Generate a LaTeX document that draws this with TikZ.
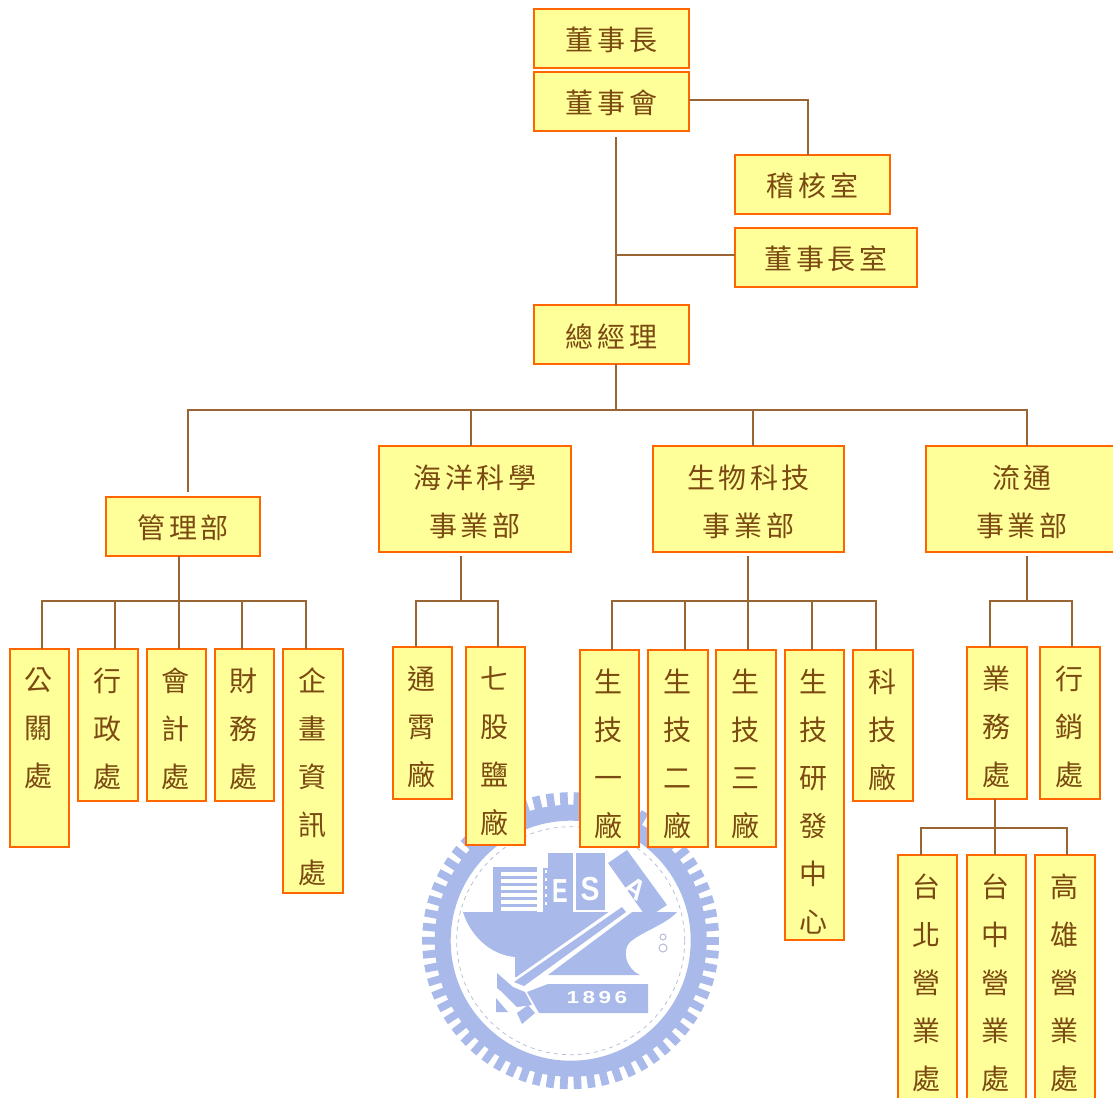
\documentclass[tikz,border=0pt]{standalone}
\usepackage{fontspec}
\setmainfont[LetterSpace=13]{Noto Sans CJK TC}
\newfontfamily\logofont{Liberation Sans}
\usetikzlibrary{calc}
\definecolor{boxfill}{HTML}{FFFF99}
\definecolor{boxline}{HTML}{FF6600}
\definecolor{linkc}{HTML}{996633}
\definecolor{inkc}{HTML}{7A4A12}
\definecolor{logoc}{HTML}{A9B9EA}
\definecolor{logog}{HTML}{B8C0D8}
\tikzset{
  orgbox/.style={draw=boxline,fill=boxfill,line width=1.5pt,inner sep=0pt,outer sep=0pt,
    text=inkc,align=center},
  conn/.style={draw=linkc,line width=1.5pt},
  logotext/.style={text=white,inner sep=0pt}
}
\newcommand\bx[6]{%
  \pgfmathsetmacro\cx{(#2+#4)/2}\pgfmathsetmacro\cy{(#3+#5)/2}%
  \pgfmathsetmacro\bw{(#4-#2)*0.75}\pgfmathsetmacro\bh{(#5-#3)*0.75}%
  \node[orgbox,minimum width=\bw pt,minimum height=\bh pt] (#1) at (\cx,\cy)
    {\parbox[c][\bh pt][c]{\bw pt}{\centering\fontsize{21}{35.5}\selectfont\vspace*{4.5pt}#6\par}};}
\newcommand\bs[6]{%
  \pgfmathsetmacro\cx{(#2+#4)/2}\pgfmathsetmacro\cy{(#3+#5)/2}%
  \pgfmathsetmacro\bw{(#4-#2)*0.75}\pgfmathsetmacro\bh{(#5-#3)*0.75}%
  \node[orgbox,minimum width=\bw pt,minimum height=\bh pt] (#1) at (\cx,\cy)
    {\parbox[c][\bh pt][c]{\bw pt}{\centering\fontsize{21}{35.5}\selectfont\vspace*{2.4pt}#6\par}};}
\newcommand\bv[6]{%
  \pgfmathsetmacro\cx{(#2+#4)/2}\pgfmathsetmacro\cy{(#3+#5)/2}%
  \pgfmathsetmacro\bw{(#4-#2)*0.75}\pgfmathsetmacro\bh{(#5-#3)*0.75}%
  \node[orgbox,minimum width=\bw pt,minimum height=\bh pt] (#1) at (\cx,\cy)
    {\parbox[c][\bh pt][t]{\bw pt}{\centering\advance\rightskip 1.5pt\fontsize{21}{36}\selectfont\vspace*{14.3pt}#6\par}};}
\begin{document}
\begin{tikzpicture}[x=0.75pt,y=-0.75pt]
\useasboundingbox (0,0) rectangle (1113,1097);
\clip (0,0) rectangle (1113,1097);
% --- watermark emblem ---
\coordinate (lc) at (570.7,940.7);
\foreach \a in {0,5.4545,...,359} {
  \draw[logoc,line width=5.8pt] ($(lc)+(\a:128)$) -- ($(lc)+(\a:148.5)$);
}
\fill[logoc,even odd rule] (lc) circle[radius=136] (lc) circle[radius=120];
\draw[logog,line width=.6pt,dashed] (lc) circle[radius=114];
% hull
\fill[logoc] (463,912) -- (677,912) .. controls (665,925) and (645,930) .. (630,942)
  .. controls (622,950) and (625,968) .. (640,975) -- (548,975) -- (515,977) -- (515,957)
  .. controls (490,955) and (470,935) .. (463,912) -- cycle;
% superstructure
\fill[logoc] (493,867) rectangle (537,912);
\foreach \yy in {872,879,886,893,900,907} \fill[white] (501,\yy) rectangle (537,\yy+3.6);
\fill[logoc] (543,868) rectangle (548,912);
\foreach \yy in {870,878,886,894,902} \fill[white] (544.5,\yy) rectangle (546.5,\yy+2.5);
\fill[logoc] (548,853) rectangle (573,912);
\fill[logoc] (576,853) rectangle (605,910);
\fill[logoc] (608,863) -- (627,850) -- (667,905) -- (647,918) -- cycle;
\node[logotext,font=\logofont\bfseries\fontsize{25}{25}\selectfont,xscale=.7] (logoE) at (560,891) {E};
\node[logotext,font=\logofont\bfseries\fontsize{25}{25}\selectfont,xscale=.85] (logoS) at (590,889) {S};
\node[logotext,font=\logofont\bfseries\fontsize{21}{21}\selectfont,rotate=-35] (logoA) at (635,888) {A};
% diagonal tool
\fill[white] (623,902) -- (632,912) -- (525,992) -- (508,983) -- cycle;
\fill[logoc] (622,907) -- (626,912) -- (524,986) -- (514,982) -- cycle;
\fill[logoc] (497,973) -- (513,987) -- (525,992) -- (532,1005) -- (517,1007) -- (502,992) -- (497,988) -- cycle;
\fill[logoc] (496,998) -- (508,1012) -- (496,1012) -- cycle;
\fill[logoc] (517,1013) -- (528,1005) -- (535,1013) -- (522,1024) -- cycle;
% plaque
\fill[logoc] (548,984) -- (648,984) -- (648,1013) -- (539,1013) -- (527,992) -- cycle;
\node[logotext,font=\logofont\bfseries\fontsize{13}{13}\selectfont,xscale=1.3] (logoY) at (597,998) {1\kern2pt 8\kern2pt 9\kern2pt 6};
% small mark
\draw[logog,line width=.8pt] (663,937) circle[radius=3] (663,948) circle[radius=4];
% --- boxes ---
\bs{chair}{534}{9}{689}{68}{董事長}
\bs{board}{534}{72}{689}{131}{董事會}
\bs{audit}{735}{155}{890}{214}{稽核室}
\bs{office}{735}{228}{917}{287}{董事長室}
\bs{gm}{534}{305}{689}{364}{總經理}
\bs{mgmt}{106}{497}{260}{556}{管理部}
\bx{ocean}{379}{446}{571}{552}{海洋科學\\事業部}
\bx{bio}{653}{446}{844}{552}{生物科技\\事業部}
\bx{dist}{926}{446}{1118}{552}{流通\\事業部}
\bv{pr}{10}{649}{69}{847}{公\\關\\處}
\bv{adm}{78}{649}{138}{801}{行\\政\\處}
\bv{acc}{147}{649}{206}{801}{會\\計\\處}
\bv{fin}{215}{649}{274}{801}{財\\務\\處}
\bv{info}{283}{649}{343}{893}{企\\畫\\資\\訊\\處}
\bv{tx}{393}{647}{452}{799}{通\\霄\\廠}
\bv{qg}{466}{647}{525}{845}{七\\股\\鹽\\廠}
\bv{bioa}{580}{650}{639}{847}{生\\技\\一\\廠}
\bv{biob}{648}{650}{708}{847}{生\\技\\二\\廠}
\bv{bioc}{716}{650}{776}{847}{生\\技\\三\\廠}
\bv{rd}{785}{650}{844}{940}{生\\技\\研\\發\\中\\心}
\bv{tech}{853}{650}{913}{801}{科\\技\\廠}
\bv{sales}{967}{647}{1027}{799}{業\\務\\處}
\bv{mkt}{1040}{647}{1100}{799}{行\\銷\\處}
\bv{tp}{898}{855}{957}{1102}{台\\北\\營\\業\\處}
\bv{tc}{967}{855}{1026}{1102}{台\\中\\營\\業\\處}
\bv{ks}{1035}{855}{1095}{1102}{高\\雄\\營\\業\\處}
% --- connectors ---
\coordinate (trunkTop) at (616,137);
\coordinate (auditX) at (808,100);
\coordinate (officeJ) at (616,255);
\draw[conn] (board.east |- auditX) -- (auditX) -- (auditX |- audit.north);
\draw[conn] (trunkTop) -- (trunkTop |- gm.north);
\draw[conn] (officeJ) -- (office.west |- officeJ);
\coordinate (busA) at (188,410);
\coordinate (busB) at (471,410);
\coordinate (busC) at (616,410);
\coordinate (busD) at (753,410);
\coordinate (busE) at (1027,410);
\coordinate (mgmtTop) at (188,492);
\draw[conn] (busC |- gm.south) -- (busC);
\draw[conn] (mgmtTop) -- (busA) -- (busE) -- (busE |- dist.north);
\draw[conn] (busB) -- (busB |- ocean.north);
\draw[conn] (busD) -- (busD |- bio.north);
% management
\coordinate (ma) at (42,601);
\coordinate (mb) at (115,601);
\coordinate (mc) at (179,601);
\coordinate (md) at (242,601);
\coordinate (me) at (306,601);
\draw[conn] (mc |- mgmt.south) -- (mc |- acc.north);
\draw[conn] (ma |- pr.north) -- (ma) -- (me) -- (me |- info.north);
\draw[conn] (mb) -- (mb |- adm.north);
\draw[conn] (md) -- (md |- fin.north);
% ocean
\coordinate (oa) at (416,601);
\coordinate (ob) at (461,601);
\coordinate (oc) at (498,601);
\draw[conn] (ob |- ocean.south) ++(0,4) -- (ob);
\draw[conn] (oa |- tx.north) -- (oa) -- (oc) -- (oc |- qg.north);
% bio
\coordinate (ba) at (612,601);
\coordinate (bb) at (685,601);
\coordinate (bc) at (748,601);
\coordinate (bd) at (812,601);
\coordinate (be) at (876,601);
\draw[conn] (bc |- bio.south) ++(0,4) -- (bc |- bioc.north);
\draw[conn] (ba |- bioa.north) -- (ba) -- (be) -- (be |- tech.north);
\draw[conn] (bb) -- (bb |- biob.north);
\draw[conn] (bd) -- (bd |- rd.north);
% distribution
\coordinate (da) at (990,601);
\coordinate (db) at (1027,601);
\coordinate (dc) at (1072,601);
\draw[conn] (db |- dist.south) ++(0,4) -- (db);
\draw[conn] (da |- sales.north) -- (da) -- (dc) -- (dc |- mkt.north);
% sales
\coordinate (sa) at (921,828);
\coordinate (sb) at (995,828);
\coordinate (sc) at (1067,828);
\draw[conn] (sb |- sales.south) -- (sb |- tc.north);
\draw[conn] (sa |- tp.north) -- (sa) -- (sc) -- (sc |- ks.north);
\end{tikzpicture}
\end{document}
